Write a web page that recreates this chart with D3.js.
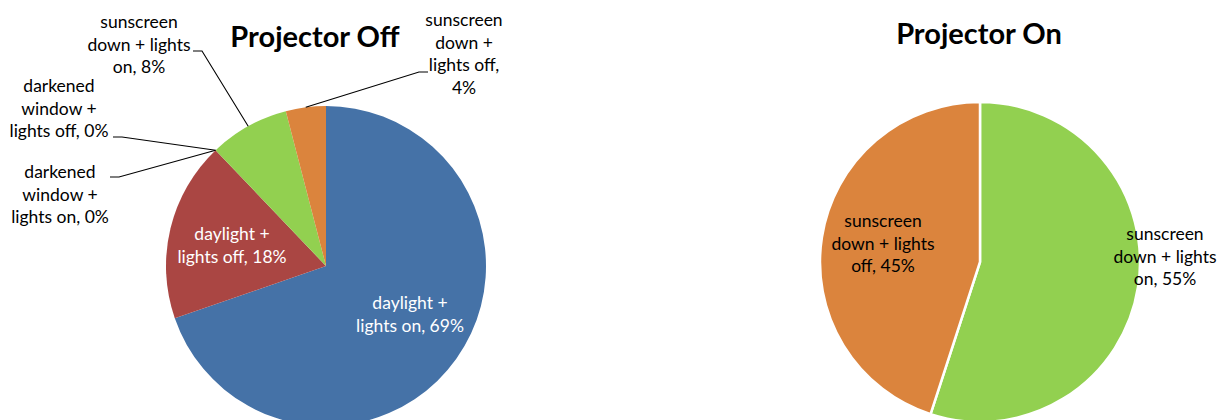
<!DOCTYPE html>
<html>
<head>
<meta charset="utf-8">
<script src="https://cdn.jsdelivr.net/npm/d3@7"></script>
<style>
  body { margin: 0; background: #fff; }
  text { font-family: Lato, "Open Sans", sans-serif; }
</style>
</head>
<body>
<script>
// the data
var categories = ["daylight + lights on", "daylight + lights off",
                  "darkened window + lights on", "darkened window + lights off",
                  "sunscreen down + lights on", "sunscreen down + lights off"];
var offCategories = categories;
var offValues = [69, 18, 0, 0, 8, 4];
var onCategories = ["sunscreen down + lights on", "sunscreen down + lights off"];
var onValues = [55, 45];
var titles = ["Projector Off", "Projector On"];

// colours per category
var color = d3.scaleOrdinal()
    .domain(categories)
    .range(["#4572A7", "#AA4643", "#80699B", "#3D96AE", "#92D050", "#DB843D"]);

var width = 1225, height = 420, radius = 160, lineH = 22.7;

// label layout: words per line, block position and leader start (relative to pie centre)
var offLayout = [
  {words: [2, 3], x: 84, y: 43, fill: "#fff"},
  {words: [2, 3], x: -94, y: -26, fill: "#fff"},
  {words: [1, 2, 3], x: -266, y: -88, lx: -216, ly: -89},
  {words: [1, 2, 3], x: -267, y: -174, lx: -213, ly: -129},
  {words: [1, 3, 2], x: -187, y: -238, lx: -133, ly: -215},
  {words: [1, 2, 2, 1], x: 138, y: -240, lx: 102, ly: -194}
];
var onLayout = [
  {words: [1, 3, 2], x: 185, y: -22, fill: "#000"},
  {words: [1, 3, 2], x: -97, y: -35, fill: "#000"}
];

var charts = [
  {title: titles[0], cats: offCategories, vals: offValues, layout: offLayout,
   cx: 326, cy: 266, tx: 315, ty: 47, stroke: "none"},
  {title: titles[1], cats: onCategories, vals: onValues, layout: onLayout,
   cx: 980, cy: 262, tx: 979, ty: 44, stroke: "#fff"}
];

var svg = d3.select("body").append("svg")
    .attr("width", width)
    .attr("height", height);

var pie = d3.pie().sort(null).value(function(d) { return d.v; });
var arc = d3.arc().innerRadius(0).outerRadius(radius);

charts.forEach(function(c) {
  var rows = c.cats.map(function(k, i) { return {k: k, v: c.vals[i], lay: c.layout[i]}; });
  var arcs = pie(rows);

  svg.append("text")
      .attr("x", c.tx)
      .attr("y", c.ty)
      .attr("text-anchor", "middle")
      .style("font-size", "29px")
      .style("font-weight", "bold")
      .text(c.title);

  var g = svg.append("g")
      .attr("transform", "translate(" + c.cx + "," + c.cy + ")");

  // slices
  g.selectAll("path.slice")
      .data(arcs)
    .enter().append("path")
      .attr("class", "slice")
      .attr("d", arc)
      .style("fill", function(d) { return color(d.data.k); })
      .style("stroke", c.stroke)
      .style("stroke-width", 2.5);

  // leader lines for outside labels
  arcs.forEach(function(d) {
    var lay = d.data.lay;
    if (lay.lx === undefined) return;
    var mid = (d.startAngle + d.endAngle) / 2;
    var ex = Math.sin(mid) * radius, ey = -Math.cos(mid) * radius;
    var dir = ex > lay.lx ? 1 : -1;
    g.append("path")
        .attr("d", d3.line()([[lay.lx, lay.ly], [lay.lx + dir * 9, lay.ly], [ex, ey]]))
        .style("fill", "none")
        .style("stroke", "#000")
        .style("stroke-width", 1.1);
  });

  // labels
  arcs.forEach(function(d) {
    var lay = d.data.lay;
    var words = (d.data.k + ", " + d.data.v + "%").split(" ");
    var lines = [], p = 0;
    lay.words.forEach(function(n) { lines.push(words.slice(p, p + n).join(" ")); p += n; });
    var t = g.append("text")
        .attr("text-anchor", "middle")
        .style("font-size", "17.5px")
        .style("fill", lay.fill || "#000");
    lines.forEach(function(s, i) {
      t.append("tspan")
          .attr("x", lay.x)
          .attr("y", lay.y + i * lineH)
          .text(s);
    });
  });
});
</script>
</body>
</html>
